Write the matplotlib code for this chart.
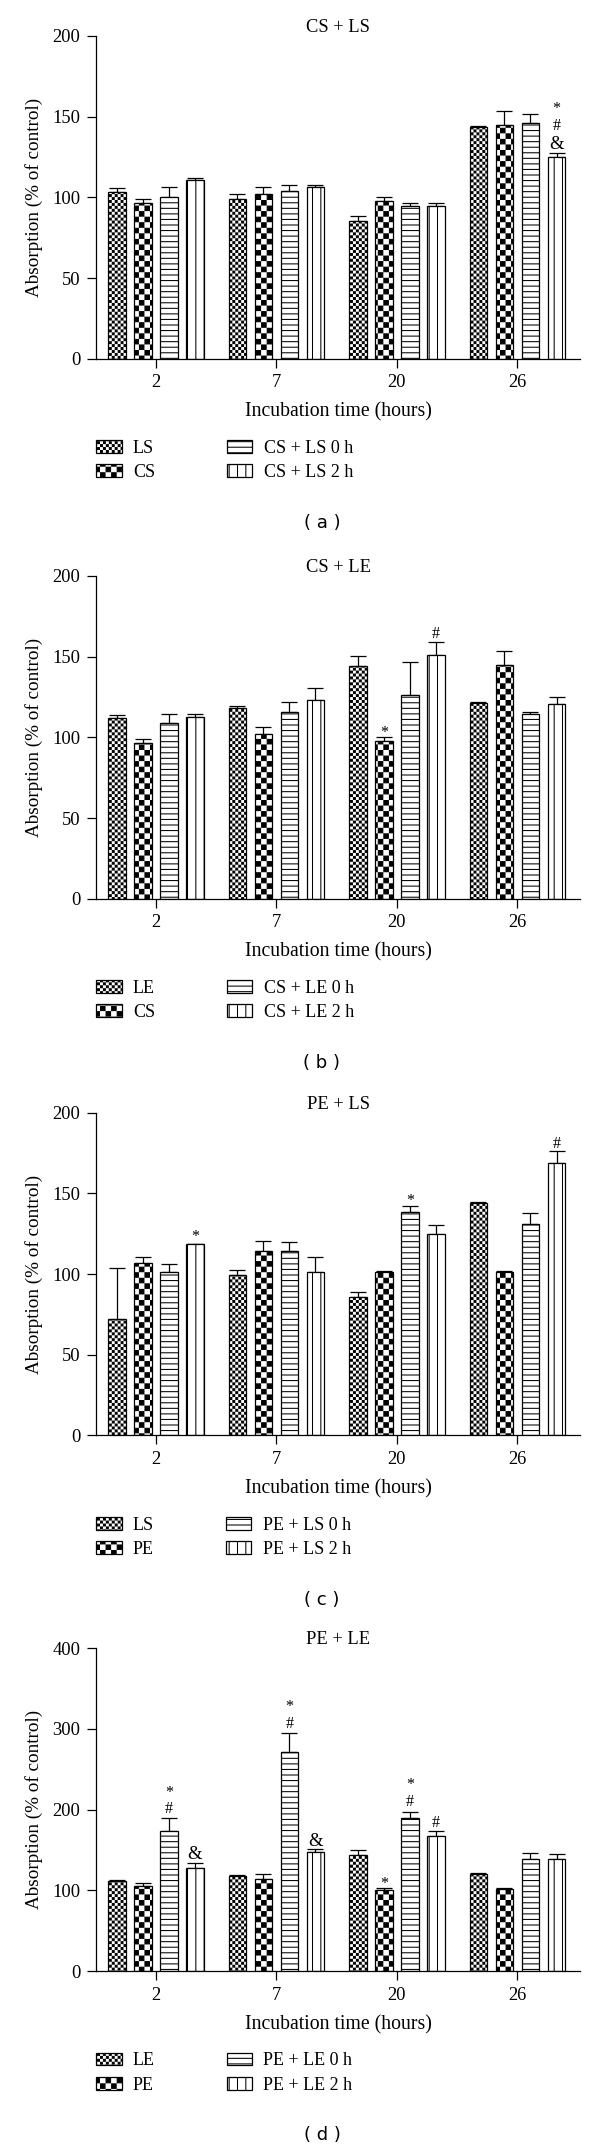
import warnings
import numpy as np
import matplotlib
matplotlib.use("Agg")
import matplotlib.pyplot as plt
import matplotlib.hatch as mhatch
from matplotlib.path import Path

warnings.filterwarnings("ignore")

# groups on the x axis (incubation time, hours)
hours = ["2", "7", "20", "26"]

# panel (a) CS + LS
a_series = ["LS", "CS", "CS + LS 0 h", "CS + LS 2 h"]
a_mean = [[103.2, 98.9, 85.5, 143.8],
          [96.8, 101.9, 97.6, 144.7],
          [100.4, 104.1, 94.7, 146.3],
          [110.5, 106.2, 94.7, 124.9]]
a_err = [[2.4, 3.2, 3.0, 0.5],
         [2.3, 4.5, 2.4, 9.0],
         [6.0, 3.6, 2.1, 5.6],
         [1.2, 1.3, 1.9, 2.8]]
# (group, series, symbols top-down, level of the lowest symbol)
a_marks = [(3, 3, "&", 134), (3, 3, "*\n#", 145)]

# panel (b) CS + LE
b_series = ["LE", "CS", "CS + LE 0 h", "CS + LE 2 h"]
b_mean = [[111.8, 117.9, 144.2, 121.2],
          [96.8, 101.9, 97.6, 144.9],
          [109.2, 115.8, 126.1, 114.3],
          [112.4, 123.3, 151.1, 120.5]]
b_err = [[2.1, 1.5, 6.2, 0.6],
         [2.3, 4.7, 2.6, 8.9],
         [5.5, 6.4, 20.9, 1.3],
         [2.3, 7.0, 7.7, 4.5]]
b_marks = [(2, 1, "*", 105), (2, 3, "#", 164.5)]

# panel (c) PE + LS
c_series = ["LS", "PE", "PE + LS 0 h", "PE + LS 2 h"]
c_mean = [[72.3, 99.5, 86.0, 144.2],
          [106.7, 114.2, 101.0, 101.4],
          [101.2, 114.0, 138.4, 131.3],
          [118.5, 101.4, 124.9, 168.6]]
c_err = [[31.2, 3.2, 2.8, 0.4],
         [3.7, 6.2, 1.0, 0.6],
         [5.3, 6.0, 3.8, 6.5],
         [0.4, 9.2, 5.8, 7.4]]
c_marks = [(0, 3, "*", 125), (2, 2, "*", 147.6), (3, 3, "#", 181)]

# panel (d) PE + LE
d_series = ["LE", "PE", "PE + LE 0 h", "PE + LE 2 h"]
d_mean = [[111.7, 117.7, 144.1, 120.7],
          [105.8, 113.9, 101.0, 101.5],
          [173.1, 272.0, 189.8, 139.0],
          [127.9, 147.1, 167.2, 139.0]]
d_err = [[1.7, 1.3, 6.0, 0.8],
         [3.4, 5.9, 1.3, 0.8],
         [16.2, 23.5, 7.6, 7.3],
         [5.6, 4.3, 5.9, 6.0]]
d_marks = [(0, 2, "*\n#", 201.7), (0, 3, "&", 147),
           (1, 2, "*\n#", 307.5), (1, 3, "&", 163),
           (2, 1, "*", 113), (2, 2, "*\n#", 210.7), (2, 3, "#", 184.6)]


HATCH_LW = 0.75  # points


class CheckerHatch(mhatch.HatchPatternBase):
    # 'k' -> fine checkerboard, 'c' -> coarse checkerboard
    def __init__(self, hatch, density):
        self.n = 0
        if "k" in hatch:
            self.n = 34
        elif "c" in hatch:
            self.n = 18
        self.num_vertices = (self.n * self.n // 2) * 5

    def set_vertices_and_codes(self, vertices, codes):
        s = 1.0 / self.n
        inset = (HATCH_LW * 100 / 72) / 2 / 100
        k = 0
        for i in range(self.n):
            for j in range(self.n):
                if (i + j) % 2:
                    continue
                x0, y0 = i * s + inset, j * s + inset
                x1, y1 = (i + 1) * s - inset, (j + 1) * s - inset
                vertices[k:k + 5] = [(x0, y0), (x1, y0), (x1, y1), (x0, y1), (x0, y0)]
                codes[k:k + 5] = [Path.MOVETO, Path.LINETO, Path.LINETO,
                                  Path.LINETO, Path.CLOSEPOLY]
                k += 5


mhatch._hatch_types.append(CheckerHatch)

plt.rcParams["font.family"] = ["Liberation Serif", "DejaVu Serif"]
plt.rcParams["hatch.linewidth"] = HATCH_LW
plt.rcParams["hatch.color"] = "black"

hatches = ["k", "c", "---", "||"]
panels = [
    ("CS + LS", a_series, a_mean, a_err, a_marks, 200, "( a )"),
    ("CS + LE", b_series, b_mean, b_err, b_marks, 200, "( b )"),
    ("PE + LS", c_series, c_mean, c_err, c_marks, 200, "( c )"),
    ("PE + LE", d_series, d_mean, d_err, d_marks, 400, "( d )"),
]
bottoms = [358.7, 898.7, 1435.4, 1971.0]

fig = plt.figure(figsize=(6, 21.52), dpi=100)
W, H = 600, 2152
ax_h = 322.7
# shift (points) from the centre of the lowest symbol to the text bottom
mark_off = {"*": -8.4, "#": -6.4, "&": -7.4}

for (title, names, mean, err, marks, ymax, tag), bot in zip(panels, bottoms):
    ax = fig.add_axes([96.3 / W, 1 - bot / H, (580 - 96.3) / W, ax_h / H])
    x = np.arange(len(hours))
    pitch, width = 0.216, 0.144
    bars = []
    for i, name in enumerate(names):
        xs = x + (i - 1.5) * pitch
        b = ax.bar(xs, mean[i], width, color="white", edgecolor="black",
                   linewidth=0.9, hatch=hatches[i], label=name, zorder=2)
        ax.errorbar(xs, mean[i], yerr=[np.zeros(len(hours)), err[i]], fmt="none",
                    ecolor="black", elinewidth=0.9, capsize=5.5, capthick=0.9,
                    zorder=1)
        bars.append(b)
    for g, i, sym, yv in marks:
        ax.annotate(sym, (x[g] + (i - 1.5) * pitch, yv), xytext=(0, mark_off[sym[-1]]),
                    textcoords="offset points", ha="center", va="bottom",
                    fontsize=13.5 if sym == "&" else 11.5, linespacing=1.05)

    ax.set_xlim(-0.495, 3.519)
    ax.set_ylim(0, ymax)
    ax.set_yticks(np.linspace(0, ymax, 5))
    ax.set_xticks(x)
    ax.set_xticklabels(hours)
    for s in ["top", "right"]:
        ax.spines[s].set_visible(False)
    for s in ["left", "bottom"]:
        ax.spines[s].set_linewidth(0.9)
    ax.tick_params(direction="out", length=6.8, width=0.9, labelsize=13.3, pad=4.5)
    ax.set_title(title, fontsize=13.3, pad=1)
    ax.set_ylabel("Absorption (% of control)", fontsize=13.8, labelpad=7)
    ax.set_xlabel("Incubation time (hours)", fontsize=14.2, labelpad=8)

    ax.legend(handles=bars, labels=names, ncol=2, loc="upper left",
              bbox_to_anchor=(0.0, -0.252), frameon=False, fontsize=13,
              handlelength=1.4, handleheight=0.72, handletextpad=0.62,
              columnspacing=4.0, labelspacing=0.4, borderpad=0, borderaxespad=0)

    ax.text(0.4666, -0.509, tag, transform=ax.transAxes, ha="center", va="center",
            fontsize=13, family="DejaVu Sans")

fig.savefig("out.png", dpi=100)
